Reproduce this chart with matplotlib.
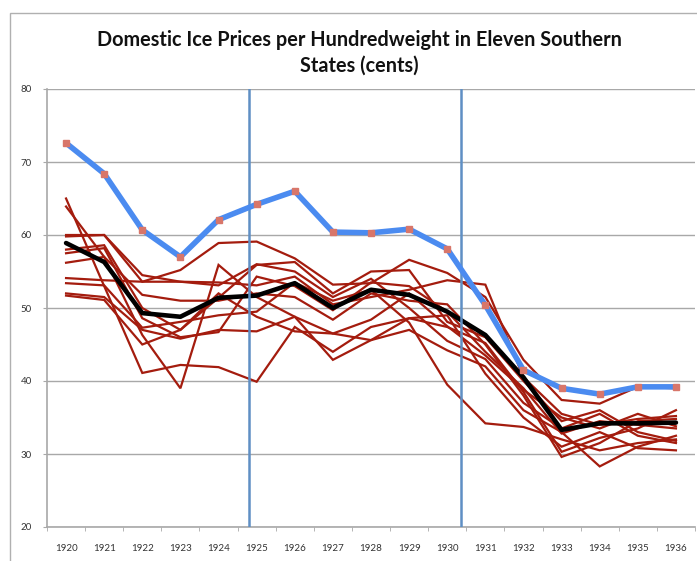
import matplotlib.pyplot as plt
from matplotlib.patches import Rectangle

years = [1920, 1921, 1922, 1923, 1924, 1925, 1926, 1927, 1928,
         1929, 1930, 1931, 1932, 1933, 1934, 1935, 1936]

# highest-price series (blue, with markers)
top_series = [72.6, 68.4, 60.7, 57.0, 62.1, 64.2, 66.0, 60.4, 60.3,
              60.8, 58.1, 50.4, 41.5, 39.0, 38.2, 39.2, 39.2]

# average of the eleven states (black)
average = [58.9, 56.3, 49.3, 48.8, 51.4, 51.7, 53.4, 50.0, 52.5,
           51.8, 49.5, 46.3, 40.5, 33.3, 34.2, 34.2, 34.3]

# the eleven states (dark red)
state_01 = [65.0, 53.0, 41.1, 42.2, 41.9, 39.9, 47.4, 44.0, 47.4, 48.6, 47.4, 45.2, 38.5, 30.3, 32.2, 33.5, 36.0]
state_02 = [63.9, 57.0, 46.3, 39.0, 55.9, 51.5, 48.8, 46.5, 45.6, 47.0, 44.2, 42.0, 36.0, 33.0, 28.3, 31.0, 32.5]
state_03 = [60.0, 60.0, 53.6, 55.2, 58.9, 59.1, 56.8, 53.2, 53.4, 56.6, 54.8, 51.5, 42.9, 37.4, 36.9, 39.2, 39.0]
state_04 = [59.8, 60.0, 54.5, 53.6, 53.5, 53.1, 54.3, 50.5, 51.5, 52.5, 53.8, 53.2, 40.5, 35.5, 34.0, 34.8, 35.2]
state_05 = [58.0, 58.6, 50.0, 47.0, 51.4, 55.9, 56.3, 52.0, 55.0, 55.2, 48.1, 46.0, 40.0, 34.5, 36.0, 33.0, 31.8]
state_06 = [57.5, 58.2, 48.6, 46.0, 46.7, 54.3, 53.0, 49.7, 53.5, 53.0, 49.5, 44.0, 39.0, 32.8, 34.5, 34.0, 33.5]
state_07 = [56.2, 57.0, 51.8, 51.0, 51.0, 52.0, 51.5, 48.4, 52.0, 51.0, 50.5, 45.0, 38.0, 29.6, 31.5, 34.5, 34.8]
state_08 = [54.1, 53.8, 53.6, 53.6, 53.1, 56.0, 55.0, 51.5, 54.0, 50.0, 45.5, 43.0, 37.0, 33.5, 35.5, 32.5, 31.5]
state_09 = [53.4, 53.1, 47.3, 48.1, 49.0, 49.5, 53.5, 51.0, 52.5, 48.0, 39.5, 34.2, 33.7, 32.0, 30.5, 31.5, 32.0]
state_10 = [52.0, 51.5, 47.0, 45.8, 47.0, 46.8, 48.8, 42.9, 45.6, 48.6, 49.0, 41.0, 35.0, 31.0, 33.0, 30.8, 30.5]
state_11 = [51.7, 51.1, 45.0, 47.0, 52.0, 48.8, 46.8, 46.5, 48.4, 52.0, 47.5, 43.5, 38.8, 35.0, 33.5, 35.5, 33.8]

states = [state_01, state_02, state_03, state_04, state_05, state_06,
          state_07, state_08, state_09, state_10, state_11]

# period markers (positions between categories)
markers_x = [4.8, 10.37]

title = "Domestic Ice Prices per Hundredweight in Eleven Southern\nStates (cents)"

plt.rcParams['font.family'] = ['Lato', 'DejaVu Sans']

fig = plt.figure(figsize=(6.97, 5.61), dpi=100)
ax = fig.add_axes([47 / 697, 34 / 561, 648 / 697, 438 / 561])

x = list(range(len(years)))

for s in states:
    ax.plot(x, s, color='#a41c0e', lw=1.6, zorder=3, solid_joinstyle='miter')

ax.plot(x, average, color='black', lw=3.3, zorder=4, solid_joinstyle='round',
        solid_capstyle='round')

for mx in markers_x:
    ax.axvline(mx, color='#5f8fc4', lw=1.8, zorder=5)

ax.plot(x, top_series, color='#4b8bf0', lw=4.0, zorder=6,
        solid_joinstyle='round', solid_capstyle='round',
        marker='s', ms=4.5, mfc='#d8766a', mec='#d8766a')

ax.set_xlim(-0.5, len(years) - 0.5)
ax.set_ylim(20, 80)
ax.set_yticks(range(20, 81, 10))
ax.yaxis.grid(True, color='#a8a8a8', lw=1.0)
ax.set_axisbelow(True)

ax.set_xticks(x)
ax.set_xticklabels([str(y) for y in years])
ax.set_xticks([i + 0.5 for i in range(-1, len(years))], minor=True)
ax.tick_params(axis='x', which='major', length=0, pad=12, labelsize=7, labelcolor='#333333')
ax.tick_params(axis='x', which='minor', length=3, color='#a8a8a8', direction='out')
ax.tick_params(axis='y', length=3, color='#a8a8a8', labelsize=7, labelcolor='#333333', pad=8)

for side in ['top', 'right']:
    ax.spines[side].set_visible(False)
for side in ['left', 'bottom']:
    ax.spines[side].set_color('#a8a8a8')
    ax.spines[side].set_linewidth(1.2)

fig.text(0.515, 0.906, title, ha='center', va='center', fontsize=14.3,
         fontweight='bold', linespacing=1.4, color='#111111')

# outer chart border
fig.patches.append(Rectangle((10 / 697, -0.1), 1.2, (561 - 13) / 561 + 0.1,
                             transform=fig.transFigure, fill=False,
                             edgecolor='#b0b0b0', lw=1.0))

fig.savefig('out.png', dpi=100)
